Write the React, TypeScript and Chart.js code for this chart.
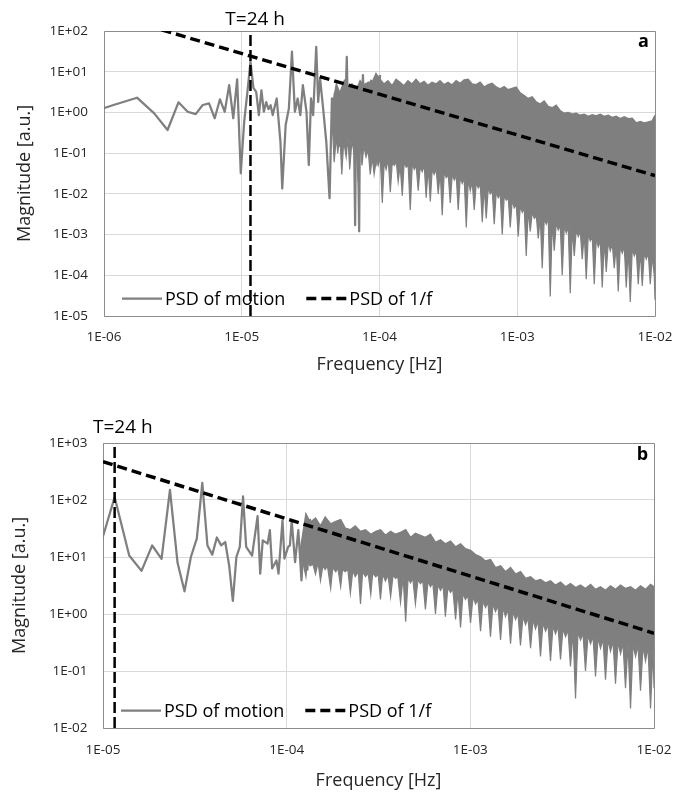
import React, { useEffect, useRef } from "react";
import { Chart, registerables } from "chart.js";

Chart.register(...registerables);

const FONT = "'Open Sans', 'Noto Sans', sans-serif";
const TEXT = "#262626";
const GRAY = "#7f7f7f";
const GRID = "#d9d9d9";
const FRAME = "#8c8c8c";

// ---------------- shared text ----------------
const seriesNames = ["PSD of motion", "PSD of 1/f"];
const xAxisTitle = "Frequency [Hz]";
const yAxisTitle = "Magnitude [a.u.]";
const markerText = "T=24 h";
const dayFreq = [1.157e-5, 1.157e-5];

// ---------------- panel a ----------------
const binHzA = 5.787e-7; // FFT bin width (Hz)
const motionBinA = [1, 2, 3, 4, 5, 6, 7, 8, 9, 10, 11, 12, 13, 14, 15, 16, 17, 18, 19, 20, 21, 22, 23, 24, 25, 26, 27, 28, 29, 31, 33, 34, 36, 38, 40, 42, 44, 46, 48, 51, 53, 55, 57, 60, 62, 64, 67, 71, 75, 78, 80, 82, 84, 86, 88, 90, 92, 94, 96, 98, 100, 102, 104, 106, 108, 110, 112, 115, 117, 120, 123, 125, 128, 131, 134, 137, 140, 143, 147, 150, 154, 158, 162, 166, 170, 174];
const motionMagA = [0.7, 1.5, 2.3, 0.95, 0.37, 1.77, 1.04, 0.91, 1.52, 1.66, 0.72, 2.1, 1.04, 4.7, 0.72, 6.5, 0.032, 0.6, 3.2, 17.6, 4.0, 3.2, 0.86, 3.5, 1.04, 1.8, 1.2, 1.5, 0.86, 2.2, 0.19, 0.0135, 0.49, 1.26, 31, 1.04, 2.2, 0.86, 4.7, 1.04, 0.051, 2.2, 0.86, 41, 1.8, 6.9, 1.5, 0.19, 0.0078, 2.2, 0.3, 3.0, 0.6, 2.5, 0.15, 3.0, 1.0, 4.0, 0.4, 2.0, 23, 0.8, 4.0, 0.3, 3.5, 0.6, 2.5, 0.0017, 3.0, 0.5, 0.0012, 4.0, 0.3, 8.3, 0.6, 5.0, 0.2, 4.5, 0.107, 6.0, 0.3, 5.5, 0.05, 6.5, 0.2, 8.3];
// dense part: upper edge of the noise band
const bandTopBinA = [78, 84, 89, 96, 102, 109, 117, 125, 134, 143, 153, 163, 174, 186, 199, 213, 228, 243, 260, 278, 298, 318, 340, 364, 389, 416, 445, 475, 508, 544, 581, 622, 665, 711, 760, 812, 869, 929, 993, 1062, 1135, 1214, 1298, 1388, 1484, 1586, 1696, 1814, 1939, 2073, 2217, 2370, 2534, 2710, 2897, 3098, 3312, 3541, 3786, 4048, 4328, 4628, 4948, 5290, 5656, 6048, 6466, 6913, 7392, 7903, 8450, 9035, 9660, 10328, 11043, 11807, 12624, 13497, 14431, 15430, 16497, 17280];
const bandTopA = [1.2, 5, 3, 6, 4, 5, 3.5, 6, 4.5, 5.5, 5.5, 9, 6.5, 5, 6, 4.5, 6.5, 5.5, 4.5, 6, 5, 6.5, 5, 5.8, 4.6, 5.5, 5, 6, 4.8, 5.5, 4.7, 6, 5.2, 6.3, 6.5, 5, 4.8, 5.5, 4.2, 4.8, 5.2, 4.2, 3.8, 4.3, 3.6, 3.9, 4.2, 3, 2.6, 2.2, 2.4, 1.8, 1.6, 1.9, 1.4, 1.3, 1.5, 1.1, 0.95, 1.0, 0.9, 0.95, 0.85, 0.9, 0.8, 0.88, 0.82, 0.9, 0.8, 0.85, 0.75, 0.8, 0.7, 0.78, 0.7, 0.72, 0.55, 0.6, 0.55, 0.58, 0.62, 0.85];
// dense part: lower edge of the noise band (troughs and deep dips)
const bandLowBinA = [78, 81, 84, 86, 89, 92, 95, 99, 102, 105, 109, 113, 117, 121, 125, 129, 133, 138, 143, 148,
  153, 158, 164, 169, 175, 181, 187, 193, 200, 207, 214, 221, 229, 236, 244, 253, 261, 270, 279, 289,
  299, 309, 319, 330, 341, 353, 365, 377, 390, 404, 417, 431, 446, 461, 477, 493, 510, 527, 545, 564,
  583, 603, 623, 644, 666, 689, 712, 737, 762, 788, 814, 842, 871, 900, 931, 963, 995, 1029, 1064, 1100,
  1138, 1176, 1216, 1258, 1300, 1345, 1390, 1438, 1487, 1537, 1589, 1643, 1699, 1757, 1817, 1879, 1942, 2008, 2077, 2147,
  2220, 2296, 2374, 2455, 2538, 2624, 2714, 2806, 2901, 3000, 3102, 3207, 3316, 3429, 3546, 3666, 3791, 3920, 4053, 4191,
  4334, 4481, 4633, 4791, 4954, 5122, 5296, 5476, 5663, 5855, 6054, 6260, 6473, 6693, 6921, 7156, 7399, 7651, 7911, 8180,
  8458, 8746, 9043, 9351, 9669, 9997, 10337, 10689, 11052, 11428, 11817, 12219, 12634, 13064, 13508, 13967, 14442, 14933, 15441, 15966,
  16509, 17070, 17280];
const bandLowA = [0.8, 0.06, 0.25, 0.1, 0.3, 0.03, 0.2, 0.08, 0.25, 0.04, 0.2, 0.1, 0.15, 0.02, 0.2, 0.05, 0.15, 0.08, 0.12, 0.03,
  0.08, 0.03, 0.07, 0.05, 0.08, 0.006, 0.06, 0.04, 0.07, 0.011,
  0.06, 0.05, 0.06, 0.02, 0.05, 0.009, 0.06, 0.045, 0.05, 0.004,
  0.055, 0.04, 0.05, 0.012, 0.045, 0.035, 0.05, 0.008, 0.045, 0.0065,
  0.04, 0.03, 0.04, 0.01, 0.035, 0.003, 0.035, 0.025, 0.03, 0.006,
  0.03, 0.022, 0.028, 0.004, 0.025, 0.018, 0.024, 0.0015, 0.022, 0.012,
  0.02, 0.004, 0.019, 0.014, 0.017, 0.002, 0.015, 0.0025, 0.014, 0.01,
  0.012, 0.0018, 0.011, 0.008, 0.01, 0.001, 0.009, 0.007, 0.008, 0.0015,
  0.007, 0.0045, 0.0055, 0.0009, 0.005, 0.0035, 0.0045, 0.0003, 0.004, 0.0012,
  0.0035, 0.0025, 0.003, 0.0008, 0.0028, 0.00015, 0.0025, 0.0018, 0.0024, 0.00003,
  0.002, 0.0004, 0.0019, 0.0013, 0.0017, 0.0001, 0.0016, 0.0011, 0.0015, 0.000036,
  0.0014, 0.0003, 0.0013, 0.0009, 0.0012, 0.00025, 0.0011, 0.00008, 0.001, 0.0007,
  0.0009, 0.00006, 0.0008, 0.0005, 0.0007, 0.00005, 0.0007, 0.00012, 0.00065, 0.0004,
  0.0006, 0.00015, 0.00055, 0.00004, 0.0005, 0.00035, 0.0005, 0.00005, 0.00045, 0.000022,
  0.00045, 0.0003, 0.0004, 0.00006, 0.0004, 0.000055, 0.00035, 0.00025, 0.00035, 0.00006,
  0.0003, 0.0001, 0.000025];
const fitFreqA = [1e-6, 1e-2];
const fitMagA = [280, 0.028];
const dayMagA = [1e-5, 1e2];
const xTicksA = [1e-6, 1e-5, 1e-4, 1e-3, 1e-2];
const xTickLabelsA = ["1E-06", "1E-05", "1E-04", "1E-03", "1E-02"];
const yTicksA = [1e-5, 1e-4, 1e-3, 1e-2, 1e-1, 1, 10, 100];
const yTickLabelsA = ["1E-05", "1E-04", "1E-03", "1E-02", "1E-01", "1E+00", "1E+01", "1E+02"];

// ---------------- panel b ----------------
const binHzB = 2.315e-6;
const motionBinB = [4, 5, 6, 7, 8, 9, 10, 11, 12, 13, 14, 15, 16, 17, 18, 19, 20, 21, 22, 23, 24, 25, 26, 28, 30, 31, 32, 34, 35, 36, 38, 39, 41, 42, 44, 45, 46, 48, 50, 52, 54, 56, 58, 61];
const motionMagB = [10, 112, 10.6, 5.7, 15.9, 9.3, 151, 7.9, 2.5, 10, 21, 200, 15.9, 11, 22, 16, 18.3, 7.1, 1.7, 10, 15, 116, 15, 10.6, 52, 5.1, 19.6, 17.2, 29.5, 6.3, 8.7, 5.1, 44, 9.4, 15, 16, 44, 8.1, 29.5, 3.9, 30, 6, 45, 8];
const bandTopBinB = [51, 55, 58, 62, 66, 70, 75, 80, 85, 90, 96, 102, 109, 116, 124, 132, 140, 149, 159, 169, 180, 192, 204, 217, 231, 246, 262, 279, 297, 316, 337, 359, 382, 406, 433, 461, 491, 522, 556, 592, 631, 671, 715, 761, 810, 863, 919, 978, 1041, 1109, 1180, 1256, 1338, 1424, 1516, 1615, 1719, 1830, 1949, 2075, 2209, 2352, 2504, 2666, 2839, 3022, 3218, 3427, 3648, 3884, 4136, 4320];
const bandTopB = [12, 57, 40, 48, 35, 50, 38, 42, 45, 32, 30, 35, 28, 30, 25, 28, 30, 24, 28, 25, 27, 30, 22, 26, 24, 22, 25, 18, 20, 17, 19, 15, 17, 14, 13, 11, 10, 8.5, 9, 6.5, 7, 5.5, 6.5, 5, 5.5, 4.2, 4.5, 3.8, 4.0, 3.5, 3.8, 3.2, 3.6, 3.0, 3.4, 2.9, 3.2, 2.8, 3.3, 2.7, 3.0, 2.6, 3.1, 2.7, 3.2, 2.8, 3.0, 2.6, 3.1, 2.7, 3.3, 3.0];
const bandLowBinB = [51, 53, 55, 56, 58, 60, 62, 64, 66, 68, 70, 72, 75, 77, 80, 82, 85, 87, 90, 93,
  96, 99, 102, 106, 109, 112, 116, 120, 124, 127, 132, 136, 140, 144, 149, 154, 159, 164, 169, 174,
  180, 186, 192, 198, 204, 210, 217, 224, 231, 238, 246, 254, 262, 270, 279, 288, 297, 307, 316, 326,
  337, 347, 359, 370, 382, 394, 406, 419, 433, 447, 461, 475, 491, 506, 522, 539, 556, 574, 592, 611,
  631, 651, 671, 693, 715, 738, 761, 785, 810, 836, 863, 890, 919, 948, 978, 1009, 1041, 1074, 1109, 1144,
  1180, 1218, 1257, 1297, 1338, 1380, 1424, 1470, 1516, 1565, 1615, 1666, 1719, 1774, 1830, 1889, 1949, 2011, 2075, 2141,
  2209, 2280, 2352, 2427, 2504, 2584, 2666, 2751, 2839, 2929, 3022, 3119, 3218, 3321, 3427, 3536, 3648, 3765, 3884, 4008,
  4136, 4267, 4320];
const bandLowB = [8, 8, 4.5, 8.5, 7, 7.5, 5, 8, 3.8, 7,
  6, 7, 2.8, 6.5, 5.5, 6.5, 3, 6, 5.5, 6,
  2.3, 5.8, 4.5, 5.5, 1.5, 5.5, 4.5, 5.2, 2.2, 5.2,
  4.5, 5, 1.8, 5, 3.8, 4.8, 2, 4.8, 4.2, 4.5,
  1.6, 4.5, 0.73, 4.3, 3.5, 4.2, 1.5, 4, 3.4, 3.8,
  1.2, 3.7, 3, 3.5, 1.0, 3.3, 2.6, 3.1, 0.9, 2.9,
  2.4, 2.7, 0.8, 2.5, 0.58, 2.3, 1.8, 2.1, 0.7, 2.0,
  1.5, 1.8, 0.5, 1.7, 1.3, 1.6, 0.4, 1.5, 1.1, 1.4,
  0.35, 1.3, 0.9, 1.2, 0.3, 1.1, 0.8, 1.0, 0.28, 0.9,
  0.65, 0.85, 0.25, 0.8, 0.55, 0.75, 0.18, 0.7, 0.5, 0.65,
  0.15, 0.62, 0.45, 0.6, 0.16, 0.55, 0.4, 0.52, 0.12, 0.5,
  0.033, 0.48, 0.35, 0.45, 0.1, 0.42, 0.3, 0.4, 0.08, 0.38,
  0.25, 0.36, 0.07, 0.35, 0.22, 0.33, 0.06, 0.32, 0.2, 0.3,
  0.05, 0.3, 0.022, 0.29, 0.18, 0.28, 0.045, 0.27, 0.15, 0.26,
  0.022, 0.25, 0.05];
const fitFreqB = [1e-5, 1e-2];
const fitMagB = [470, 0.46];
const dayMagB = [1e-2, 1e3];
const xTicksB = [1e-5, 1e-4, 1e-3, 1e-2];
const xTickLabelsB = ["1E-05", "1E-04", "1E-03", "1E-02"];
const yTicksB = [1e-2, 1e-1, 1, 10, 100, 1000];
const yTickLabelsB = ["1E-02", "1E-01", "1E+00", "1E+01", "1E+02", "1E+03"];

// ---------------- layout (pixels) ----------------
const W = 676;
const layoutA = { top: 0, height: 390, plotLeft: 104, plotRight: 655, plotTop: 31, plotBottom: 316, yTitlePad: 13.7, xTitlePad: 14.2, xTickGap: 13, yTickGap: 16, markDx: 4.7, markBaseline: 25, letterDy: 15.7, letter: "a" };
const layoutB = { top: 390, height: 402, plotLeft: 103, plotRight: 654, plotTop: 53, plotBottom: 338, yTitlePad: 8.7, xTitlePad: 0.2, xTickGap: 14, yTickGap: 15.5, markDx: 8.2, markBaseline: 42.7, letterDy: 17.3, letter: "b" };

const panelA = {
  lay: layoutA, binHz: binHzA, motionBin: motionBinA, motionMag: motionMagA,
  topBin: bandTopBinA, top: bandTopA, lowBin: bandLowBinA, low: bandLowA,
  fitFreq: fitFreqA, fitMag: fitMagA, dayMag: dayMagA, xTicks: xTicksA, xTickLabels: xTickLabelsA, yTicks: yTicksA, yTickLabels: yTickLabelsA,
};
const panelB = {
  lay: layoutB, binHz: binHzB, motionBin: motionBinB, motionMag: motionMagB,
  topBin: bandTopBinB, top: bandTopB, lowBin: bandLowBinB, low: bandLowB,
  fitFreq: fitFreqB, fitMag: fitMagB, dayMag: dayMagB, xTicks: xTicksB, xTickLabels: xTickLabelsB, yTicks: yTicksB, yTickLabels: yTickLabelsB,
};

const align = (v: number) => Math.round(v - 0.5) + 0.5;

const decor = {
  id: "decor",
  beforeDatasetsDraw(chart: any) {
    const { ctx, chartArea: a } = chart;
    ctx.save();
    ctx.strokeStyle = FRAME;
    ctx.lineWidth = 1;
    ctx.beginPath();
    const l = align(a.left), r = align(a.right), t = align(a.top), b = align(a.bottom);
    ctx.moveTo(l, t); ctx.lineTo(r, t); ctx.lineTo(r, b); ctx.lineTo(l, b); ctx.closePath();
    ctx.stroke();
    ctx.restore();
  },
  afterDatasetsDraw(chart: any, _args: any, opts: any) {
    const { ctx, chartArea: a } = chart;
    ctx.save();
    const items = chart.data.datasets.filter((d: any) => d.legendRank).sort((p: any, q: any) => p.legendRank - q.legendRank);
    ctx.font = `18px ${FONT}`;
    ctx.textBaseline = "alphabetic";
    ctx.textAlign = "left";
    let x = a.left + 18;
    const base = a.bottom - 11;
    const mid = base - 6.5;
    for (const d of items) {
      ctx.strokeStyle = d.borderColor;
      ctx.lineWidth = d.borderWidth;
      ctx.setLineDash(d.borderDash || []);
      ctx.beginPath(); ctx.moveTo(x, mid); ctx.lineTo(x + 40, mid); ctx.stroke();
      ctx.setLineDash([]);
      ctx.fillStyle = "#000";
      ctx.fillText(d.label, x + 43, base);
      x += 43 + ctx.measureText(d.label).width + 21;
    }
    const px = chart.scales.x.getPixelForValue(opts.markFreq);
    ctx.font = `19px ${FONT}`;
    ctx.textAlign = "center";
    ctx.fillStyle = "#000";
    ctx.fillText(opts.markText, px + opts.markDx, opts.markBaseline);
    ctx.font = `bold 18px ${FONT}`;
    ctx.fillText(opts.letter, a.right - 11.5, a.top + opts.letterDy);
    ctx.restore();
  },
};

function buildConfig(p: any): any {
  const L = p.lay;
  const pts = (xs: number[], ys: number[]) => xs.map((x, i) => ({ x, y: ys[i] }));
  const hz = (bins: number[]) => bins.map((k) => k * p.binHz);
  const common = { pointRadius: 0, pointHoverRadius: 0, tension: 0, fill: false, clip: 0 };
  const datasets = [
    { ...common, label: seriesNames[1], legendRank: 2, data: pts(p.fitFreq, p.fitMag), borderColor: "#000", borderWidth: 3.5, borderDash: [10, 5] },
    { ...common, label: markerText, data: pts(dayFreq, p.dayMag), borderColor: "#000", borderWidth: 2.5, borderDash: [11, 4] },
    { ...common, label: seriesNames[0], legendRank: 1, data: pts(hz(p.motionBin), p.motionMag), borderColor: GRAY, borderWidth: 2.25, borderJoinStyle: "round" },
    { ...common, label: "band top", data: pts(hz(p.topBin), p.top), borderColor: GRAY, borderWidth: 1.5 },
    { ...common, label: "band low", data: pts(hz(p.lowBin), p.low), borderColor: GRAY, borderWidth: 1.2, fill: "-1", backgroundColor: GRAY },
  ];
  const tickFont = { family: FONT, size: 13.5 };
  return {
    type: "line",
    data: { datasets },
    plugins: [decor],
    options: {
      animation: false,
      responsive: false,
      events: [],
      layout: { padding: { left: 0, top: L.plotTop, right: W - L.plotRight, bottom: 0 } },
      plugins: {
        legend: { display: false },
        tooltip: { enabled: false },
        decor: { markFreq: dayFreq[0], markText: markerText, markDx: L.markDx, markBaseline: L.markBaseline, letter: L.letter, letterDy: L.letterDy },
      },
      scales: {
        x: {
          type: "logarithmic",
          min: p.xTicks[0],
          max: p.xTicks[p.xTicks.length - 1],
          afterBuildTicks: (s: any) => { s.ticks = p.xTicks.map((v: number) => ({ value: v })); },
          afterFit: (s: any) => { s.height = L.height - L.plotBottom; },
          ticks: { autoSkip: false, maxRotation: 0, padding: 0, color: TEXT, font: tickFont, callback: (_v: any, i: number) => p.xTickLabels[i] },
          grid: { color: GRID, drawTicks: true, tickLength: L.xTickGap, tickColor: "rgba(0,0,0,0)" },
          border: { display: false },
          title: { display: true, text: xAxisTitle, color: TEXT, font: { family: FONT, size: 18 }, padding: { top: 0, bottom: L.xTitlePad } },
        },
        y: {
          type: "logarithmic",
          min: p.yTicks[0],
          max: p.yTicks[p.yTicks.length - 1],
          afterBuildTicks: (s: any) => { s.ticks = p.yTicks.map((v: number) => ({ value: v })); },
          afterFit: (s: any) => { s.width = L.plotLeft; },
          ticks: { autoSkip: false, padding: 0, color: TEXT, font: tickFont, callback: (_v: any, i: number) => p.yTickLabels[i] },
          grid: { color: GRID, drawTicks: true, tickLength: L.yTickGap, tickColor: "rgba(0,0,0,0)" },
          border: { display: false },
          title: { display: true, text: yAxisTitle, color: TEXT, font: { family: FONT, size: 18 }, padding: { top: L.yTitlePad, bottom: 0 } },
        },
      },
    },
  };
}

function Panel({ panel }: { panel: any }) {
  const ref = useRef<HTMLCanvasElement | null>(null);
  useEffect(() => {
    if (!ref.current) return;
    const chart = new Chart(ref.current, buildConfig(panel));
    return () => chart.destroy();
  }, [panel]);
  const L = panel.lay;
  return (
    <canvas
      ref={ref}
      width={W}
      height={L.height}
      style={{ position: "absolute", left: 0, top: L.top, width: W, height: L.height, display: "block" }}
    />
  );
}

export default function App() {
  return (
    <div style={{ position: "absolute", left: 0, top: 0, width: W, height: 792, background: "#fff" }}>
      <Panel panel={panelA} />
      <Panel panel={panelB} />
    </div>
  );
}
